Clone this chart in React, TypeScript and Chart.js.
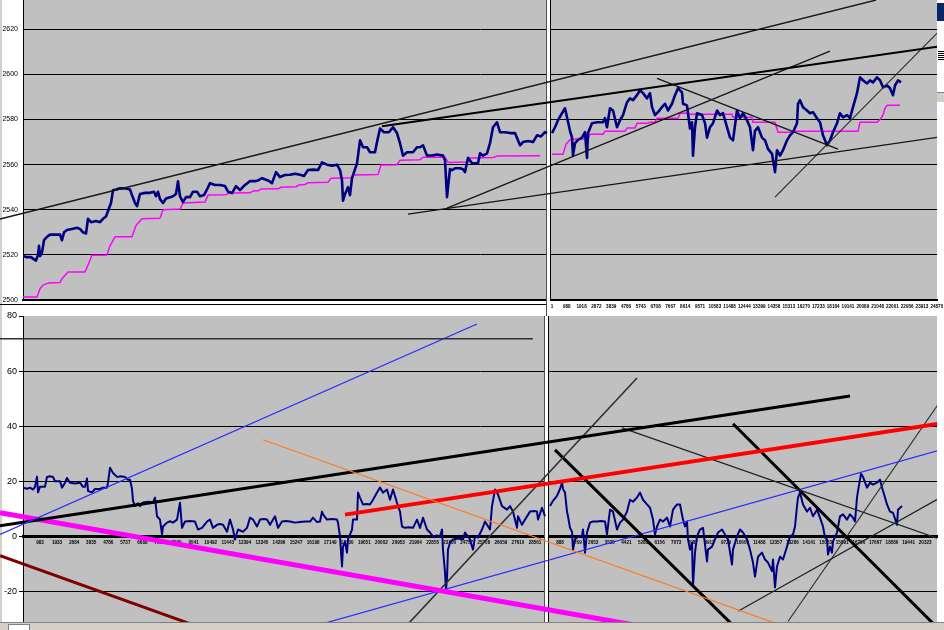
import React, { useEffect, useRef } from "react";
import { Chart, registerables } from "chart.js";

Chart.register(...registerables);

// ================= DATA =================
// time index t (bars) and values

// ---- Top panel: index price, left window ----
const topYTicks = [2500, 2520, 2540, 2560, 2580, 2600, 2620];

const tlPrice: [number, number][] = [
  [0, 2519.5], [4, 2519], [8, 2519], [11, 2518], [13, 2517.5], [15, 2520], [16, 2524], [17, 2519.5], [19, 2521], [21, 2526.5],
  [24, 2528], [27, 2529], [32, 2529], [37, 2529], [39, 2526.5], [41, 2530], [44, 2531], [49, 2531.5], [54, 2532], [57, 2531.5],
  [60, 2530], [63, 2529.5], [65, 2536], [68, 2534.5], [73, 2535], [77, 2534.5], [80, 2536], [83, 2537], [86, 2540.7], [88, 2543],
  [90, 2548.7], [93, 2549], [97, 2549.5], [102, 2549.5], [107, 2549], [109, 2546.5], [112, 2543], [114, 2541.6], [117, 2547], [122, 2547.5],
  [127, 2547.5], [131, 2548], [133, 2546], [135, 2548], [137, 2544.7], [140, 2543], [143, 2545], [147, 2545.5], [150, 2546], [153, 2547],
  [155, 2552.6], [157, 2546], [160, 2543.4], [163, 2545.6], [167, 2545.6], [170, 2548], [174, 2548], [177, 2546], [181, 2546.5], [184, 2549],
  [187, 2551.8], [192, 2551], [197, 2551], [202, 2550.5], [205, 2548], [209, 2547.4], [213, 2550.5], [217, 2548.7], [222, 2551], [227, 2552.7],
  [232, 2552.7], [235, 2553], [239, 2554], [245, 2553], [249, 2551.8], [253, 2556.7], [257, 2554.5], [262, 2555.4], [267, 2555.5], [272, 2556],
  [277, 2555.5], [281, 2555], [285, 2557.6], [290, 2557.8], [295, 2557.6], [299, 2561], [304, 2560], [309, 2559.5], [314, 2560], [317, 2557.6],
  [319, 2553], [320, 2544], [322, 2547], [325, 2550], [327, 2546.5], [329, 2554], [334, 2560.6], [337, 2570.8], [340, 2567.7], [344, 2567.7],
  [347, 2565.5], [352, 2565.5], [354, 2570], [357, 2576], [361, 2574.4], [366, 2574.4], [370, 2576.6], [374, 2574], [377, 2569.5], [380, 2564],
  [384, 2565.5], [390, 2565.5], [394, 2567.7], [397, 2567.7], [400, 2568.6], [404, 2564], [409, 2564], [414, 2564.5], [420, 2564], [422, 2562],
  [424, 2545.6], [425, 2550], [427, 2558], [429, 2557.6], [432, 2558.4], [437, 2558.4], [440, 2558], [442, 2556.7], [445, 2563], [449, 2560.6],
  [455, 2560.6], [457, 2565], [460, 2564], [464, 2565], [467, 2569.5], [470, 2576.6], [474, 2578.8], [477, 2574.4], [482, 2574.4], [487, 2574],
  [492, 2574], [497, 2568.6], [500, 2570], [505, 2570.5], [510, 2570], [514, 2573], [518, 2572.5], [522, 2574.4], [524, 2574],
];

const tlAverage: [number, number][] = [
  [0, 2501.3], [14, 2501.3], [17, 2505], [20, 2506.6], [25, 2507.5], [37, 2507.8], [40, 2510], [45, 2512.4], [62, 2512.4], [65, 2515.5],
  [69, 2519.8], [84, 2520], [87, 2524], [92, 2528], [109, 2528], [113, 2533], [119, 2536], [137, 2536.2], [140, 2540], [157, 2540.3],
  [160, 2543], [182, 2543.4], [185, 2546.5], [203, 2546.7], [206, 2547.4], [227, 2547.5], [230, 2548.3], [235, 2548.4], [238, 2549.2], [255, 2549.3],
  [258, 2550], [273, 2550.2], [276, 2551], [282, 2551.2], [285, 2552], [305, 2552.2], [308, 2554], [328, 2554.2], [331, 2555.4], [355, 2555.6],
  [358, 2559.8], [374, 2560], [377, 2562], [397, 2562.2], [400, 2563.3], [422, 2563.3], [425, 2561], [444, 2561.2], [447, 2563], [470, 2563.2],
  [474, 2563.8], [517, 2564],
];

// ---- Top panel: index price, right window ----
const trPrice: [number, number][] = [
  [529, 2574], [532, 2576.6], [535, 2579.7], [539, 2582.8], [542, 2585], [544, 2581], [547, 2575], [549, 2572], [550, 2564], [552, 2569.5],
  [555, 2571], [559, 2572], [562, 2574.4], [564, 2563], [565, 2574], [569, 2578.4], [574, 2578.8], [580, 2578.8], [582, 2580.6], [584, 2576.6],
  [587, 2585], [590, 2584], [594, 2576.6], [597, 2579.7], [600, 2582], [604, 2587.7], [607, 2589.4], [610, 2588.6], [614, 2590.8], [617, 2593],
  [620, 2591.7], [624, 2589.4], [627, 2591.7], [629, 2585.5], [632, 2582], [635, 2583.3], [639, 2585.5], [642, 2587], [645, 2584], [649, 2587],
  [652, 2590.8], [655, 2593.9], [659, 2592], [660, 2587], [664, 2586.3], [665, 2582.8], [667, 2576], [669, 2578.8], [670, 2564], [672, 2576.6],
  [674, 2582.8], [679, 2582], [682, 2578.4], [684, 2572], [687, 2576.6], [690, 2578.4], [694, 2584], [697, 2582], [700, 2582.8], [704, 2576.6],
  [707, 2572], [710, 2570.8], [714, 2584], [717, 2580.6], [720, 2582.8], [724, 2579.7], [727, 2576.6], [730, 2566.4], [732, 2575], [735, 2576.6],
  [739, 2572], [742, 2570.8], [745, 2567], [749, 2564.8], [752, 2556.7], [754, 2566.4], [757, 2564], [760, 2566.4], [764, 2570.8], [767, 2573],
  [770, 2574.4], [774, 2578.4], [775, 2587], [777, 2588.6], [780, 2585.5], [784, 2584], [787, 2582.8], [790, 2583.3], [794, 2580.6], [797, 2578.8],
  [800, 2573], [804, 2568.6], [807, 2570.8], [810, 2574.4], [814, 2578.4], [817, 2582.8], [820, 2581], [824, 2582], [827, 2580.6], [830, 2585.5],
  [834, 2591.7], [837, 2598.7], [840, 2597.4], [844, 2596], [847, 2597.4], [850, 2596.5], [854, 2598.7], [857, 2597.4], [860, 2594.3], [864, 2595.1],
  [867, 2593.9], [870, 2590.8], [872, 2595.1], [875, 2597.4], [878, 2596.5],
];

const trAverage: [number, number][] = [
  [529, 2564.6], [540, 2564.6], [543, 2569], [547, 2571], [552, 2571.4], [565, 2571.4], [567, 2573.5], [580, 2573.5], [582, 2574.8], [602, 2574.8],
  [604, 2576.2], [612, 2576.2], [614, 2578.4], [625, 2578.4], [627, 2578.8], [632, 2578.8], [634, 2580.6], [655, 2580.6], [657, 2582.8], [665, 2582.8],
  [667, 2582.4], [709, 2582.4], [710, 2581], [729, 2581], [730, 2578.8], [752, 2578.8], [755, 2574.4], [769, 2574.4], [770, 2574.8], [835, 2574.8],
  [837, 2578.8], [854, 2578.8], [857, 2580], [860, 2582], [862, 2585], [864, 2586.3], [877, 2586.3],
];

// hand-drawn trend lines on the top panel: [t1, v1, t2, v2]
const topTrendLines: [number, number, number, number][] = [
  [-23, 2535.9, 853, 2633],
  [359, 2577.0, 917, 2612.5],
  [385, 2538.1, 915, 2572.2],
  [424, 2540.7, 807, 2610.3],
  [634, 2598.3, 815, 2566.9],
  [752, 2545.6, 917, 2619.6],
];

const topXLabels = [
  "1", "988", "1918", "2872", "3839", "4786", "5743", "6708", "7667", "8614", "9571", "10583", "11488", "12444",
  "13399", "14358", "15313", "16270", "17233", "18184", "19141", "20089", "21048", "22001", "22956", "23913", "24870",
];

// ---- Bottom panel: oscillator ----
const bottomYTicks = [-20, 0, 20, 40, 60, 80];

const blOsc: [number, number][] = [
  [0, 17.7], [4, 17.3], [7, 17.7], [10, 17], [12, 18], [14, 21.7], [15, 16], [17, 18], [22, 18], [24, 21.6],
  [27, 21.8], [30, 21.6], [32, 20], [37, 20], [39, 17.7], [42, 19.5], [44, 21.2], [47, 19.5], [52, 19.2], [57, 19.5],
  [60, 18], [62, 18], [64, 21], [65, 16.5], [69, 16], [72, 17.2], [77, 17.2], [80, 17.7], [84, 17.7], [85, 19.5],
  [87, 24.9], [90, 23], [94, 21.6], [98, 21.8], [102, 21.6], [105, 20.6], [107, 20.6], [109, 17.2], [110, 12.9], [112, 11],
  [115, 12], [117, 11], [120, 12.3], [125, 12.6], [130, 12.3], [132, 14.1], [134, 7.3], [137, 6.1], [139, 0.7], [140, 3.6],
  [144, 5], [147, 5.5], [150, 5], [154, 6.1], [157, 12.2], [159, 3.1], [162, 5.4], [167, 5.6], [172, 5.4], [175, 2.5],
  [179, 3.1], [184, 5.4], [187, 6.1], [190, 3.1], [194, 4.2], [197, 4.5], [200, 4.2], [204, 1.7], [207, 6.1], [210, 2.5],
  [212, -1.1], [215, 2.5], [220, 1.7], [224, 3.1], [227, 6.8], [230, 6.1], [234, 3.6], [237, 6.1], [241, 6.3], [244, 6.1],
  [247, 4.2], [252, 7.3], [255, 3.1], [259, 5.4], [263, 5.6], [267, 5.4], [272, 5], [277, 5.2], [282, 5.4], [287, 5.4],
  [290, 6.8], [294, 5.2], [297, 5.4], [299, 9], [300, 8], [304, 6.1], [309, 6.3], [314, 6.1], [315, 5], [317, 0],
  [319, -10.9], [320, -3.7], [322, -2], [324, -5.9], [325, -1.1], [329, 2.5], [330, 6.1], [334, 6.1], [335, 15.9], [337, 14.1],
  [340, 11.6], [344, 11.8], [347, 11.6], [350, 13.3], [354, 15.9], [357, 17.7], [360, 15.9], [364, 17], [367, 13.3], [370, 17],
  [374, 12.2], [377, 9], [379, 3.6], [382, 3.1], [386, 3.3], [390, 3.1], [394, 6.1], [397, 3.1], [400, 6.8], [404, 2.5],
  [407, 1.4], [410, 0], [414, 0.3], [417, 0], [419, 2.5], [420, -4.8], [422, -13], [423, -19.5], [424, -15], [425, -4.8],
  [427, -2.3], [430, -1.1], [435, -0.8], [440, -1.1], [442, 1.4], [447, -1.1], [450, -4.8], [452, 0], [455, -0.4], [459, 2.5],
  [462, 5.4], [467, 2.5], [469, 11], [472, 17], [475, 15.2], [479, 11], [484, 9.7], [487, 11], [490, 9], [494, 3.1],
  [495, 7.3], [499, 4.2], [502, 6.1], [507, 9], [511, 9.2], [514, 9], [515, 6.1], [519, 10.4], [522, 7.3],
];

const brOsc: [number, number][] = [
  [527, 11], [530, 12.9], [534, 14.7], [537, 17.2], [539, 19.5], [540, 17.2], [542, 15.9], [544, 9], [545, 7.3], [547, 3.1],
  [549, 1.7], [550, -4.8], [552, -1.1], [555, 0], [559, 0.2], [560, 2.5], [562, -5.9], [564, 1.4], [567, 5], [570, 5.4],
  [574, 5.4], [578, 5.6], [582, 5.4], [584, 0.7], [587, 9.7], [590, 9], [594, 2.5], [597, 5], [600, 6.1], [604, 9],
  [607, 13.3], [610, 12.6], [614, 14.1], [617, 15.9], [620, 13.3], [624, 11.6], [627, 10.4], [630, 6.1], [632, 0.7], [634, 3.6],
  [637, 6.1], [640, 5.4], [644, 6.8], [647, 3.6], [650, 9.7], [654, 11.6], [657, 11.6], [660, 6.1], [662, 3.6], [664, 5.4],
  [665, -1.1], [667, -4.8], [669, -2.3], [670, -18.1], [672, -5.9], [674, 0], [677, 2.5], [680, 3.1], [684, -9.1], [685, -4.8],
  [689, -3.7], [692, -1.1], [695, 1.4], [699, 2.5], [702, 0.7], [705, -1.1], [709, -10.2], [710, -4.8], [714, 0], [717, 2.5],
  [720, 1.4], [724, -1.1], [727, -4.8], [730, -9.5], [732, -14.6], [735, -7.4], [739, -5.9], [742, -8.4], [745, -9.5], [749, -12.6],
  [750, -8.4], [752, -18.5], [754, -10.9], [757, -7.4], [760, -8.4], [764, -3.7], [767, 0], [770, 0.7], [772, 3.6], [774, 11],
  [775, 14.1], [777, 15.9], [780, 11.6], [784, 9], [787, 10.4], [790, 7.3], [794, 9.7], [797, 6.8], [800, 3.6], [802, -0.4],
  [804, -1.1], [805, -6.6], [807, -3.7], [809, -5.9], [810, -1.8], [814, 1.4], [817, 7.3], [820, 8], [824, 6.1], [827, 8],
  [830, 6.8], [832, 5.4], [834, 14.1], [835, 16.5], [838, 22.7], [840, 21.6], [844, 17.7], [847, 19.5], [850, 18.8], [854, 19.5],
  [857, 20.6], [859, 17.7], [862, 14.1], [864, 11.6], [867, 9], [870, 8.6], [874, 4.2], [875, 9.7], [879, 11],
];

// hand-drawn lines on the bottom panel: [t1, v1, t2, v2]
const bottomTrendLines: [number, number, number, number][] = [
  [-23, 71.7, 510, 71.7],
  [-23, 0.7, 454, 77.1],
  [240, 35.1, 767, -33.4],
  [-23, 3.9, 827, 51.0],
  [-23, 8.6, 637, -33.8],
  [-23, -7.0, 197, -35.6],
  [322, 7.9, 921, 41.2],
  [382, -33, 614, 57.5],
  [532, 31.4, 712, -33],
  [599, 39.4, 921, -1.5],
  [710, 40.9, 917, -34.1],
  [287, -33, 921, 31.8],
  [715, -27.2, 921, 14.8],
  [765, -30.9, 921, 51.0],
];

const bottomLeftXLabels = [
  "983", "1933", "2884", "3835", "4786", "5737", "6688", "7639", "8590", "9541", "10492", "11443", "12394", "13345", "14296",
  "15247", "16198", "17149", "18100", "19051", "20002", "20953", "21904", "22855", "23806", "24757", "25708", "26659", "27610", "28561",
];
const bottomRightXLabels = [
  "888", "1769", "2653", "3535", "4421", "5288", "6156", "7073", "7987", "8911", "9729", "10609", "11488", "12357", "13286",
  "14141", "15083", "15891", "16790", "17667", "18586", "19441", "20323",
];

// ================= STYLE / LAYOUT =================
const FONT = "'Liberation Sans', Arial, sans-serif";
const AXIS_W = 23;
const T_MAX = 914;
const TOP_MIN = 2500;
const TOP_MAX = 2633;
const BOT_MIN = -31.07;
const BOT_MAX = 80;

const topTrendStyle = [
  { c: "#151515", w: 1.3 },
  { c: "#000000", w: 2 },
  { c: "#151515", w: 1.3 },
  { c: "#151515", w: 1.3 },
  { c: "#151515", w: 1.3 },
  { c: "#2a2a2a", w: 1.2 },
];
const bottomTrendStyle = [
  { c: "#303030", w: 1.5 },
  { c: "#2a2aff", w: 1.2 },
  { c: "#ff7a20", w: 1.2 },
  { c: "#000000", w: 3 },
  { c: "#ff00ff", w: 5 },
  { c: "#800000", w: 3 },
  { c: "#ff0000", w: 4 },
  { c: "#303030", w: 1.6 },
  { c: "#000000", w: 3 },
  { c: "#202020", w: 1.2 },
  { c: "#000000", w: 3 },
  { c: "#2a2aff", w: 1.2 },
  { c: "#202020", w: 1.2 },
  { c: "#303030", w: 1.2 },
];

const pts = (arr: [number, number][]) => arr.map(([x, y]) => ({ x, y }));

const series = (arr: [number, number][], color: string, width: number) => ({
  data: pts(arr),
  borderColor: color,
  borderWidth: width,
  pointRadius: 0,
  fill: false,
  tension: 0,
  borderJoinStyle: "round",
  order: 1,
});

const trend = (l: [number, number, number, number], s: { c: string; w: number }) => ({
  data: [
    { x: l[0], y: l[1] },
    { x: l[2], y: l[3] },
  ],
  borderColor: s.c,
  borderWidth: s.w,
  pointRadius: 0,
  fill: false,
  tension: 0,
  order: 0,
  clip: { left: AXIS_W, top: 0, right: 0, bottom: 0 },
});

const paneFrame = {
  id: "paneFrame",
  beforeDraw(chart: any) {
    const { ctx, chartArea: a } = chart;
    ctx.save();
    ctx.fillStyle = "#c0c0c0";
    ctx.fillRect(a.left, a.top, a.right - a.left, a.bottom - a.top);
    ctx.restore();
  },
  beforeDatasetsDraw(chart: any, _args: any, o: any) {
    const { ctx, chartArea: a, scales } = chart;
    const x = Math.round(scales.x.getPixelForValue(o.split));
    const h = a.bottom - a.top;
    ctx.save();
    ctx.fillStyle = "#ffffff";
    ctx.fillRect(x, a.top, o.gap, h + (o.extendBottom || 0));
    ctx.fillStyle = "#505050";
    ctx.fillRect(x - 1, a.top, 1, h + (o.extendBottom || 0));
    ctx.fillStyle = "#000000";
    ctx.fillRect(x + o.gap, a.top, 1, h);
    if (o.underline) ctx.fillRect(0, a.bottom + 4, x - 1, 1);
    ctx.restore();
  },
};

function yAxis(min: number, max: number, ticks: number[], hidden: number[], fontSize: number, tick: number, pad: number) {
  return {
    type: "linear",
    position: "left",
    min,
    max,
    afterBuildTicks: (s: any) => {
      s.ticks = ticks.map((value) => ({ value }));
    },
    afterFit: (s: any) => {
      s.width = AXIS_W;
      s.paddingTop = 0;
      s.paddingBottom = 0;
    },
    grid: {
      color: (c: any) => (c.tick && hidden.includes(c.tick.value) ? "rgba(0,0,0,0)" : "#000000"),
      lineWidth: 1,
      drawTicks: tick > 0,
      tickLength: tick,
      tickColor: "#000000",
    },
    border: { display: true, color: "#000000", width: 1 },
    ticks: {
      color: "#000000",
      font: { family: FONT, size: fontSize },
      padding: pad,
      callback: (v: any) => String(v),
    },
  };
}

function xAxis(position: any, tickPos: number[], labels: string[], borderWidth: number, fixHeight: number | null) {
  return {
    type: "linear",
    position,
    min: 0,
    max: T_MAX,
    afterBuildTicks: (s: any) => {
      s.ticks = tickPos.map((value) => ({ value }));
    },
    afterFit: (s: any) => {
      if (fixHeight !== null) s.height = fixHeight;
      s.paddingLeft = 0;
      s.paddingRight = 0;
    },
    grid: { display: false, drawTicks: false },
    border: { display: true, color: "#000000", width: borderWidth },
    ticks: {
      autoSkip: false,
      maxRotation: 0,
      minRotation: 0,
      color: "#000000",
      padding: 4,
      font: { family: FONT, size: 4.6, weight: "bold" },
      callback: (_v: any, i: number) => labels[i] ?? "",
    },
  };
}

function topConfig(): any {
  const tickPos = topXLabels.map((_, i) => 529 + i * 14.8);
  return {
    type: "line",
    data: {
      datasets: [
        ...topTrendLines.map((l, i) => trend(l, topTrendStyle[i])),
        series(tlPrice, "#000080", 2.6),
        series(tlAverage, "#ff00ff", 1.5),
        series(trPrice, "#000080", 2.6),
        series(trAverage, "#ff00ff", 1.5),
      ],
    },
    options: {
      responsive: false,
      animation: false,
      events: [],
      layout: { padding: { left: 0, top: 0, right: 7, bottom: 0 } },
      plugins: {
        legend: { display: false },
        tooltip: { enabled: false },
        paneFrame: { split: 524, gap: 3, extendBottom: 16, underline: true },
      },
      scales: {
        x: xAxis("bottom", tickPos, topXLabels, 2, 16),
        y: yAxis(TOP_MIN, TOP_MAX, topYTicks, [2500], 7, 0, 5),
      },
    },
    plugins: [paneFrame],
  };
}

function bottomConfig(): any {
  const leftPos = bottomLeftXLabels.map((_, i) => 17 + i * 17.07);
  const rightPos = bottomRightXLabels.map((_, i) => 537 + i * 16.6);
  return {
    type: "line",
    data: {
      datasets: [
        ...bottomTrendLines.map((l, i) => trend(l, bottomTrendStyle[i])),
        series(blOsc, "#000080", 2),
        series(brOsc, "#000080", 2),
      ],
    },
    options: {
      responsive: false,
      animation: false,
      events: [],
      layout: { padding: { left: 0, top: 10, right: 7, bottom: 0 } },
      plugins: {
        legend: { display: false },
        tooltip: { enabled: false },
        paneFrame: { split: 522, gap: 3, extendBottom: 0, underline: false },
      },
      scales: {
        x: xAxis({ y: 0 }, [...leftPos, ...rightPos], [...bottomLeftXLabels, ...bottomRightXLabels], 3, null),
        y: yAxis(BOT_MIN, BOT_MAX, bottomYTicks, [0, 80], 9, 4, 2),
      },
    },
    plugins: [paneFrame],
  };
}

export default function App() {
  const topRef = useRef<HTMLCanvasElement | null>(null);
  const botRef = useRef<HTMLCanvasElement | null>(null);

  useEffect(() => {
    document.body.style.margin = "0";
    const c1 = new Chart(topRef.current as HTMLCanvasElement, topConfig());
    const c2 = new Chart(botRef.current as HTMLCanvasElement, bottomConfig());
    return () => {
      c1.destroy();
      c2.destroy();
    };
  }, []);

  return (
    <div style={{ position: "absolute", left: 0, top: 0, width: 944, height: 630, background: "#ffffff", overflow: "hidden" }}>
      <div style={{ position: "absolute", left: 0, top: 0, width: 2, height: 630, background: "#d4d0c8" }} />
      <div style={{ position: "absolute", left: 937, top: 3, width: 7, height: 18, background: "#0a246a" }} />
      {[51, 53, 55, 57, 59].map((y) => (
        <div key={y} style={{ position: "absolute", left: 938, top: y, width: 6, height: 1, background: "#000" }} />
      ))}
      <div style={{ position: "absolute", left: 937, top: 92, width: 7, height: 9, background: "#d4d0c8", borderTop: "1px solid #808080" }} />
      <div style={{ position: "absolute", left: 0, top: 0 }}>
        <canvas ref={topRef} width={944} height={316} style={{ display: "block" }} />
      </div>
      <div style={{ position: "absolute", left: 0, top: 306 }}>
        <canvas ref={botRef} width={944} height={316} style={{ display: "block" }} />
      </div>
      <div style={{ position: "absolute", left: 0, top: 622, width: 944, height: 8, background: "#d4d0c8", borderTop: "1px solid #808080" }} />
      <div style={{ position: "absolute", left: 8, top: 624, width: 20, height: 6, background: "#ffffff", border: "1px solid #808080" }} />
    </div>
  );
}
